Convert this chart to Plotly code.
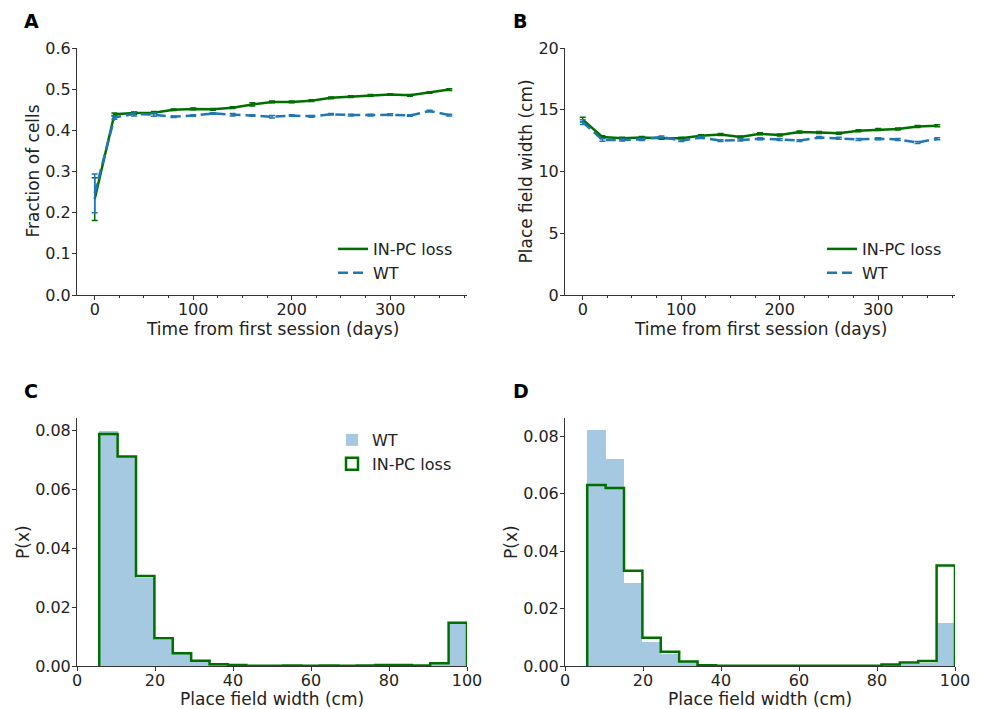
import plotly.graph_objects as go

# ---------------- data ----------------
days = [0, 20, 40, 60, 80, 100, 120, 140, 160, 180, 200, 220, 240, 260, 280, 300, 320, 340, 360]

frac_inpc = [0.233, 0.439, 0.442, 0.443, 0.450, 0.452, 0.451, 0.455, 0.463, 0.469, 0.469,
             0.472, 0.479, 0.482, 0.485, 0.487, 0.485, 0.492, 0.499]
frac_inpc_err = [0.052, 0.003, 0.003, 0.003, 0.002, 0.002, 0.002, 0.002, 0.004, 0.002, 0.002,
                 0.002, 0.002, 0.002, 0.002, 0.002, 0.002, 0.002, 0.002]
frac_wt = [0.247, 0.431, 0.440, 0.438, 0.433, 0.436, 0.441, 0.438, 0.436, 0.433, 0.436,
           0.434, 0.439, 0.437, 0.437, 0.438, 0.436, 0.447, 0.437]
frac_wt_err = [0.047, 0.004, 0.005, 0.004, 0.002, 0.002, 0.002, 0.003, 0.002, 0.003, 0.002,
               0.002, 0.002, 0.002, 0.002, 0.002, 0.002, 0.002, 0.002]

pfw_inpc = [14.2, 12.8, 12.7, 12.75, 12.7, 12.7, 12.9, 13.0, 12.8, 13.05, 12.95,
            13.2, 13.15, 13.1, 13.3, 13.4, 13.45, 13.65, 13.7]
pfw_inpc_err = [0.2, 0.1, 0.08, 0.08, 0.08, 0.08, 0.08, 0.08, 0.08, 0.08, 0.08,
                0.08, 0.08, 0.08, 0.08, 0.08, 0.08, 0.08, 0.08]
pfw_wt = [14.0, 12.55, 12.55, 12.6, 12.8, 12.5, 12.75, 12.5, 12.55, 12.65, 12.6,
          12.5, 12.75, 12.7, 12.6, 12.65, 12.6, 12.35, 12.65]
pfw_wt_err = [0.2, 0.1, 0.08, 0.08, 0.08, 0.08, 0.08, 0.08, 0.08, 0.08, 0.08,
              0.08, 0.08, 0.08, 0.08, 0.08, 0.08, 0.08, 0.08]

hist_start = 5.7
hist_end = 100.0
n_bins = 20

histC_wt = [0.0800, 0.0712, 0.0300, 0.0088, 0.0040, 0.0015, 0.0005, 0.0002, 0.0001, 0.0001,
            0.0001, 0.0002, 0.0001, 0.0001, 0.0001, 0.0002, 0.0002, 0.0002, 0.0008, 0.0145]
histC_inpc = [0.0789, 0.0712, 0.0306, 0.0094, 0.0043, 0.0018, 0.0006, 0.0003, 0.0001, 0.0001,
              0.0002, 0.0001, 0.0002, 0.0001, 0.0002, 0.0003, 0.0003, 0.0002, 0.0009, 0.0147]

histD_wt = [0.0823, 0.0722, 0.0289, 0.0085, 0.0042, 0.0015, 0.0004, 0.0002, 0.0001, 0.0001,
            0.0001, 0.0001, 0.0001, 0.0001, 0.0001, 0.0002, 0.0003, 0.0008, 0.0012, 0.0149]
histD_inpc = [0.0631, 0.0620, 0.0332, 0.0098, 0.0050, 0.0016, 0.0003, 0.0001, 0.0001, 0.0001,
              0.0001, 0.0001, 0.0001, 0.0001, 0.0001, 0.0001, 0.0005, 0.0012, 0.0017, 0.0350]

GREEN = "#006f00"
BLUE = "#1f77b4"
WT_FILL = "rgba(31,119,180,0.4)"
FONT = "DejaVu Sans"
TXT = "#222222"

# ---------------- figure ----------------
fig = go.Figure()

# Panel A
fig.add_trace(go.Scatter(x=days, y=frac_inpc, mode="lines", name="IN-PC loss",
                         line=dict(color=GREEN, width=2.5),
                         error_y=dict(type="data", array=frac_inpc_err, color=GREEN, thickness=1.5, width=3),
                         xaxis="x", yaxis="y", legend="legend"))
fig.add_trace(go.Scatter(x=days, y=frac_wt, mode="lines", name="WT",
                         line=dict(color=BLUE, width=2.5, dash="10px,5px"),
                         error_y=dict(type="data", array=frac_wt_err, color=BLUE, thickness=1.5, width=3),
                         xaxis="x", yaxis="y", legend="legend"))

# Panel B
fig.add_trace(go.Scatter(x=days, y=pfw_inpc, mode="lines", name="IN-PC loss",
                         line=dict(color=GREEN, width=2.5),
                         error_y=dict(type="data", array=pfw_inpc_err, color=GREEN, thickness=1.5, width=3),
                         xaxis="x2", yaxis="y2", legend="legend2"))
fig.add_trace(go.Scatter(x=days, y=pfw_wt, mode="lines", name="WT",
                         line=dict(color=BLUE, width=2.5, dash="10px,5px"),
                         error_y=dict(type="data", array=pfw_wt_err, color=BLUE, thickness=1.5, width=3),
                         xaxis="x2", yaxis="y2", legend="legend2"))

# Histograms
width = (hist_end - hist_start) / n_bins
edges = [hist_start + i * width for i in range(n_bins + 1)]
centers = [(edges[i] + edges[i + 1]) / 2 for i in range(n_bins)]


def step_xy(vals):
    xs = [edges[0]] + edges + [edges[-1]]
    ys = [0] + list(vals) + [vals[-1], 0]
    return xs, ys


for wt, inpc, xa, ya, lg, show in [(histC_wt, histC_inpc, "x3", "y3", "legend3", True),
                                  (histD_wt, histD_inpc, "x4", "y4", "legend3", False)]:
    fig.add_trace(go.Bar(x=centers, y=wt, width=[width] * n_bins, name="WT",
                         marker=dict(color=WT_FILL, line=dict(width=0)),
                         xaxis=xa, yaxis=ya, legend=lg, showlegend=show))
    sx, sy = step_xy(inpc)
    fig.add_trace(go.Scatter(x=sx, y=sy, mode="lines", line_shape="hv", name="IN-PC loss",
                             line=dict(color=GREEN, width=2.5),
                             xaxis=xa, yaxis=ya, showlegend=False))
    if show:
        fig.add_trace(go.Bar(x=[None], y=[None], name="IN-PC loss",
                             marker=dict(color="white", line=dict(color=GREEN, width=2.5)),
                             xaxis=xa, yaxis=ya, legend=lg, showlegend=True))

# the page body margin is removed by post_script, so figure px == screen px
W, H = 981, 709


def px(x):
    return x / W


def py(y):
    return 1 - y / H


xA = [px(77), px(467)]
xB = [px(565), px(955)]
yTop = [py(295), py(48)]
yBot = [py(666), py(418)]

axis_common = dict(showgrid=False, zeroline=False, showline=True, linecolor="#333333", linewidth=1,
                   ticks="outside", ticklen=4, tickwidth=1, tickcolor="#333333", automargin=False,
                   tickfont=dict(family=FONT, size=16, color=TXT))
xax = dict(axis_common, ticklabelstandoff=-4)
yax = dict(axis_common, ticklabelstandoff=-2)

minor = dict(ticks="outside", ticklen=2, dtick=25, tickcolor="#333333", tickwidth=1)

legend_common = dict(xanchor="right", yanchor="top", bgcolor="rgba(0,0,0,0)",
                     font=dict(family=FONT, size=16, color=TXT), tracegroupgap=0)

fig.update_layout(
    width=W, height=H, margin=dict(l=0, r=0, t=0, b=0),
    paper_bgcolor="white", plot_bgcolor="white",
    font=dict(family=FONT, size=16, color=TXT),
    bargap=0,
    xaxis=dict(xax, domain=xA, anchor="y", range=[-18, 378], dtick=100, minor=minor),
    yaxis=dict(yax, domain=yTop, anchor="x", range=[0, 0.6], dtick=0.1, tickformat=".1f"),
    xaxis2=dict(xax, domain=xB, anchor="y2", range=[-18, 378], dtick=100, minor=minor),
    yaxis2=dict(yax, domain=yTop, anchor="x2", range=[0, 20], dtick=5),
    xaxis3=dict(xax, domain=xA, anchor="y3", range=[0, 100], dtick=20),
    yaxis3=dict(yax, domain=yBot, anchor="x3", range=[0, 0.0843], dtick=0.02, tickformat=".2f"),
    xaxis4=dict(xax, domain=xB, anchor="y4", range=[0, 100], dtick=20),
    yaxis4=dict(yax, domain=yBot, anchor="x4", range=[0, 0.0864], dtick=0.02, tickformat=".2f"),
    legend=dict(legend_common, x=px(458), y=py(232)),
    legend2=dict(legend_common, x=px(947), y=py(232)),
    legend3=dict(legend_common, x=px(457), y=py(423)),
)

# axis titles
xtitles = [("Time from first session (days)", (77 + 467) / 2, 329),
           ("Time from first session (days)", (565 + 955) / 2, 329),
           ("Place field width (cm)", (77 + 467) / 2, 699),
           ("Place field width (cm)", (565 + 955) / 2, 699)]
for t, cx, cy in xtitles:
    fig.add_annotation(text=t, xref="paper", yref="paper", x=px(cx), y=py(cy),
                       xanchor="center", yanchor="middle", showarrow=False,
                       font=dict(family=FONT, size=17, color=TXT))

ytitles = [("Fraction of cells", 33, (48 + 295) / 2),
           ("Place field width (cm)", 526, (48 + 295) / 2),
           ("P(x)", 23, (418 + 666) / 2),
           ("P(x)", 511, (418 + 666) / 2)]
for t, cx, cy in ytitles:
    fig.add_annotation(text=t, xref="paper", yref="paper", x=px(cx), y=py(cy), textangle=-90,
                       xanchor="center", yanchor="middle", showarrow=False,
                       font=dict(family=FONT, size=17, color=TXT))

for letter, lx, ly in [("A", 22, 21), ("B", 511, 21), ("C", 22, 391), ("D", 511, 391)]:
    fig.add_annotation(text="<b>%s</b>" % letter, xref="paper", yref="paper",
                       x=px(lx), y=py(ly), xanchor="left", yanchor="middle", showarrow=False,
                       font=dict(family=FONT, size=19, color="black"))

fig.write_html("out.html", config={"displayModeBar": False},
               post_script="document.body.style.margin='0';document.body.style.overflow='hidden';")
